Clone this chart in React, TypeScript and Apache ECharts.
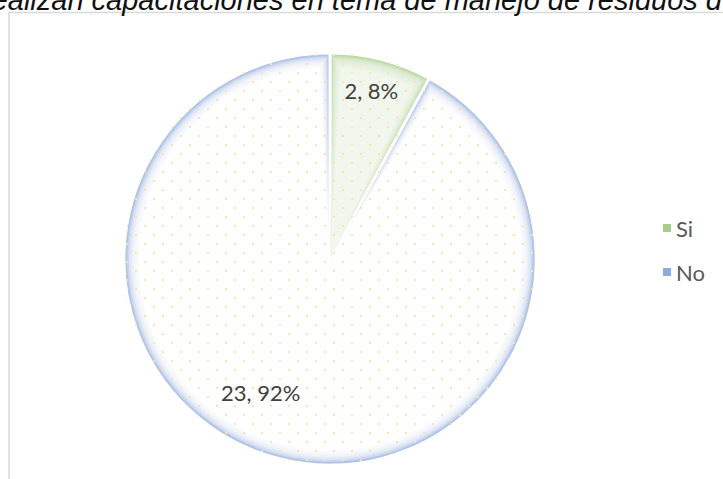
import React, { useEffect, useRef } from 'react';
import * as echarts from 'echarts';

const categories = ['Si', 'No'];
const counts = [2, 23];
const rimColors = ['#a6cf8a', '#8eaadc'];
const innerColors = ['#f1f7ec', '#ffffff'];
const titleText = 'realizan capacitaciones en tema de manejo de residuos d';

export default function App() {
  const ref = useRef<HTMLDivElement>(null);
  useEffect(() => {
    const chart = echarts.init(ref.current!, null, { renderer: 'svg' });
    const center = [330, 259];
    const R = 206;
    const labelOffsets = [[15, -66], [-43, 31]];
    const decal = {
      symbol: 'rect',
      symbolSize: 1,
      color: '#fbe4ac',
      dashArrayX: [[2, 15.4], [0, 8.7, 2, 6.7]],
      dashArrayY: [2, 6.7],
    };
    const glowSteps = [1, 2, 3, 4, 5, 6, 7, 8, 9];
    const glowLayers = glowSteps.map((k) => ({
      type: 'pie',
      center,
      radius: R - 1.6 * k,
      padAngle: 0.7 * k,
      silent: true,
      emphasis: { disabled: true },
      label: { show: false },
      labelLine: { show: false },
      itemStyle: { borderWidth: 0, opacity: k === glowSteps.length ? 1 : 0.32 },
      data: categories.map((c, i) => ({ name: c, value: counts[i], itemStyle: { color: innerColors[i] } })),
    }));
    chart.setOption({
      animation: false,
      graphic: [
        {
          type: 'rect',
          silent: true,
          shape: { x: 9, y: 12.5, width: 800, height: 600 },
          style: { fill: 'none', stroke: '#d9d9d9', lineWidth: 1.5 },
        },
        {
          type: 'text',
          x: -18,
          y: 0,
          silent: true,
          style: {
            text: titleText,
            fontFamily: 'Liberation Sans',
            fontStyle: 'italic',
            fontSize: 29,
            fill: '#111111',
            verticalAlign: 'middle',
          },
        },
      ],
      legend: {
        orient: 'vertical',
        left: 663,
        top: 217,
        padding: 0,
        itemWidth: 8,
        itemHeight: 8,
        itemGap: 22,
        itemTextGap: 9,
        icon: 'rect',
        selectedMode: false,
        itemStyle: { borderWidth: 0 },
        textStyle: { fontFamily: 'Lato', fontSize: 22, color: '#595959', lineHeight: 22 },
        data: categories.map((c, i) => ({ name: c, itemStyle: { color: rimColors[i] } })),
      },
      series: [
        {
          type: 'pie',
          center,
          radius: R,
          silent: true,
          emphasis: { disabled: true },
          label: { show: false },
          labelLine: { show: false },
          itemStyle: { borderColor: '#ffffff', borderWidth: 3 },
          data: categories.map((c, i) => ({ name: c, value: counts[i], itemStyle: { color: rimColors[i] } })),
        },
        ...glowLayers,
        {
          type: 'pie',
          center,
          radius: R,
          silent: true,
          percentPrecision: 0,
          emphasis: { disabled: true },
          labelLine: { show: false },
          label: {
            show: true,
            position: 'inside',
            formatter: '{c}, {d}%',
            fontFamily: 'Lato',
            fontSize: 22,
            color: '#404040',
          },
          labelLayout: (p: any) => ({ dx: labelOffsets[p.dataIndex][0], dy: labelOffsets[p.dataIndex][1] }),
          itemStyle: { color: 'rgba(255,255,255,0.001)', borderWidth: 0, decal },
          data: categories.map((c, i) => ({ name: c, value: counts[i] })),
        },
      ],
    });
    return () => chart.dispose();
  }, []);
  return (
    <div
      ref={ref}
      style={{ position: 'absolute', left: 0, top: 0, width: 723, height: 479, background: '#ffffff' }}
    />
  );
}
